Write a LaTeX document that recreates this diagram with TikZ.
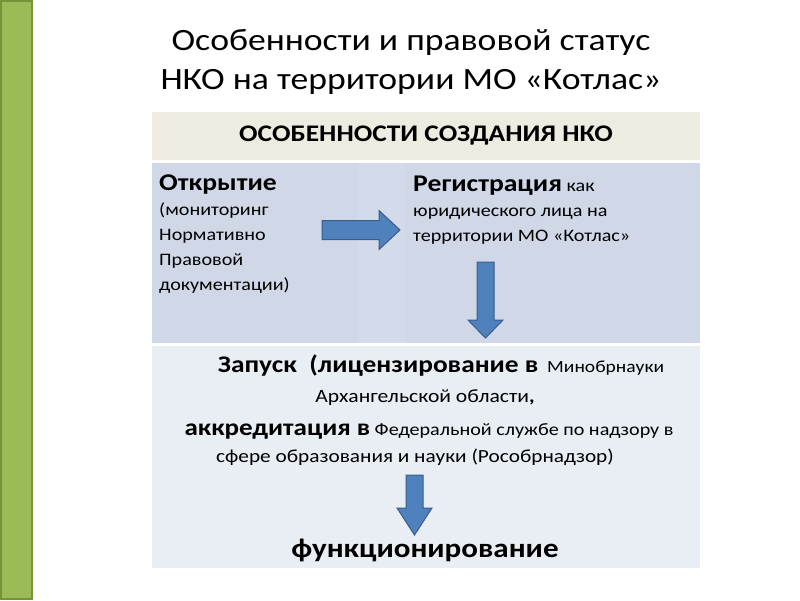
\documentclass[tikz,border=0pt]{standalone}
\usepackage{fontspec}
\setmainfont{Carlito}
\usepackage{tikz}
\usetikzlibrary{positioning}
\definecolor{barfill}{HTML}{9BBB59}
\definecolor{barline}{HTML}{77933C}
\definecolor{headfill}{HTML}{EEECE1}
\definecolor{rowfill}{HTML}{D0D8E8}
\definecolor{midfill}{HTML}{D3DAE9}
\definecolor{lowfill}{HTML}{E9EDF4}
\definecolor{arrfill}{HTML}{4F81BD}
\definecolor{arrline}{HTML}{385D8A}

\begin{document}
\begin{tikzpicture}[x=1pt,y=-1pt,
wide/.style={xscale=1.15,transform shape},
cell/.style={inner sep=0pt,outer sep=0pt,anchor=north west,align=center},
txt/.style={wide,inner sep=0pt,align=left,font=\fontsize{17.5}{25}\selectfont},
line/.style={wide,inner sep=0pt,anchor=base},
blockarr/.style={fill=arrfill,draw=arrline,line width=1pt,line join=miter}
]
\useasboundingbox (0,0) rectangle (800,600);
\fill[white] (0,0) rectangle (800,600);
\draw[fill=barfill,draw=barline,line width=2pt] (1,1) rectangle (32,599);

% title
\node[wide,align=center,font=\fontsize{31}{39}\selectfont] (title) at (411,62)
  {Особенности и правовой статус\\НКО на территории МО «Котлас»};

% table
\node[cell,fill=headfill,minimum width=548pt,minimum height=48pt] (head) at (152,112) {};
\node[wide,font=\bfseries\fontsize{23.8}{30}\selectfont] (headtxt) at (head.center) {ОСОБЕННОСТИ СОЗДАНИЯ НКО};
\node[cell,fill=rowfill,minimum width=206pt,minimum height=180pt,
  below=3pt of head.south west,anchor=north west] (left) {};
\node[cell,fill=midfill,minimum width=47pt,minimum height=180pt,
  right=0pt of left.north east,anchor=north west] (mid) {};
\node[cell,fill=rowfill,minimum width=295pt,minimum height=180pt,
  right=0pt of mid.north east,anchor=north west] (right) {};
\node[cell,fill=lowfill,minimum width=548pt,minimum height=222pt,
  below=3pt of left.south west,anchor=north west] (low) {};

% row 2
\node[txt,anchor=north west] (open) at (159,175)
  {{\bfseries\fontsize{24}{25}\selectfont Открытие}\\(мониторинг\\Нормативно\\Правовой\\документации)};
\node[txt,anchor=north west] (reg) at (413,175.5)
  {{\bfseries\fontsize{24}{25}\selectfont Регистрация} как\\юридического лица на\\территории МО «Котлас»};
\draw[blockarr] (322,220.5) -- (379,220.5) -- (379,210.5) -- (400,230)
  -- (379,249.5) -- (379,239.5) -- (322,239.5) -- cycle;
\draw[blockarr] (477,262) -- (494,262) -- (494,320) -- (503,320)
  -- (485.5,338) -- (468,320) -- (477,320) -- cycle;

% row 3
\node[line,font=\fontsize{17}{22}\selectfont] (launch) at (441,372)
  {\textbf{\fontsize{23.8}{22}\selectfont Запуск\ \ (лицензирование в}\ \ Минобрнауки};
\node[line,font=\fontsize{18.8}{22}\selectfont] (region) at (425,402)
  {Архангельской области\textbf{,}};
\node[line,font=\fontsize{17.5}{22}\selectfont] (accr) at (429,435)
  {\textbf{\fontsize{23.5}{22}\selectfont аккредитация в} Федеральной службе по надзору в};
\node[line,font=\fontsize{18.5}{22}\selectfont] (sphere) at (415,462)
  {сфере образования и науки (Рособрнадзор)};
\draw[blockarr] (406,475) -- (423,475) -- (423,508) -- (432,508)
  -- (414.5,535) -- (397,508) -- (406,508) -- cycle;
\node[line,font=\bfseries\fontsize{27}{30}\selectfont] (func) at (425,557) {функционирование};
\end{tikzpicture}
\end{document}
